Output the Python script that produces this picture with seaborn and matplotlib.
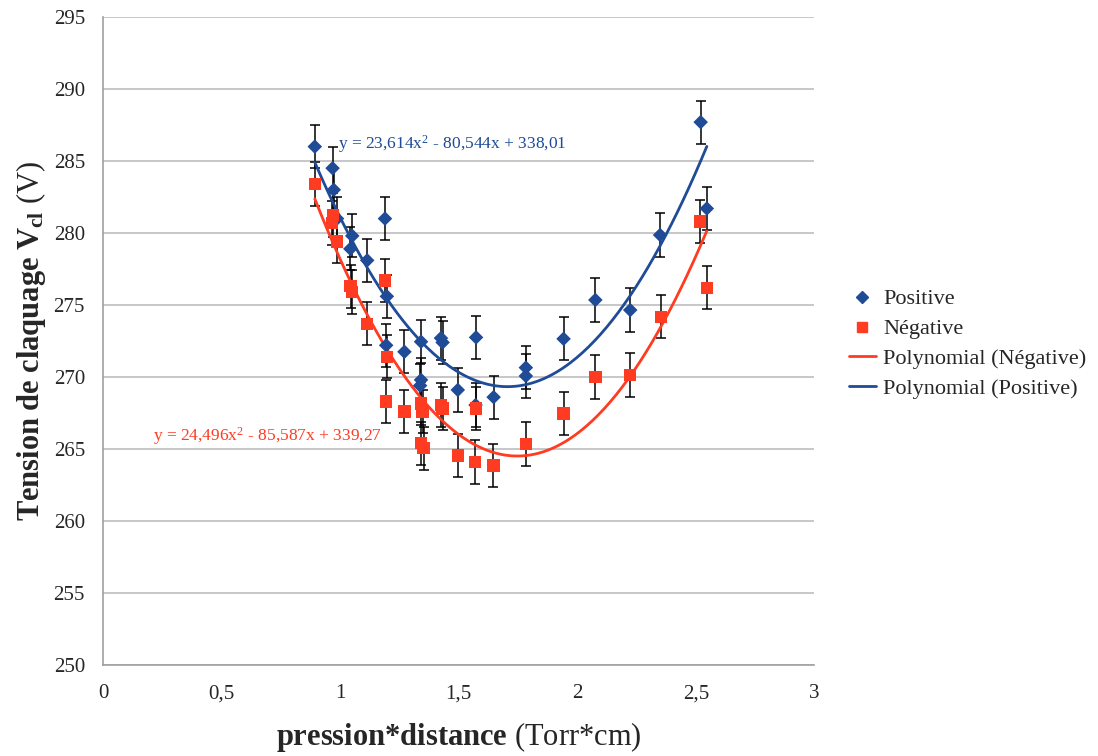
import numpy as np
import pandas as pd
import matplotlib
matplotlib.use("Agg")
import matplotlib.pyplot as plt
from matplotlib.ticker import MultipleLocator, FuncFormatter
from matplotlib.lines import Line2D
import seaborn as sns

# Donnees
pd_pos = [0.893, 0.968, 0.973, 0.987, 1.043, 1.051, 1.114, 1.189, 1.197, 1.194,
          1.271, 1.341, 1.341, 1.337, 1.425, 1.432, 1.496, 1.573, 1.571, 1.647,
          1.783, 1.783, 1.942, 2.076, 2.223, 2.349, 2.520, 2.546]
v_pos = [286.0, 284.5, 283.0, 281.0, 278.9, 279.8, 278.1, 281.0, 275.6, 272.2,
         271.75, 272.45, 269.8, 269.4, 272.7, 272.4, 269.1, 272.75, 268.05, 268.6,
         270.65, 270.07, 272.65, 275.35, 274.65, 279.86, 287.7, 281.7]

pd_neg = [0.893, 0.970, 0.966, 0.987, 1.044, 1.051, 1.114, 1.189, 1.197, 1.193,
          1.271, 1.341, 1.348, 1.341, 1.352, 1.425, 1.432, 1.496, 1.573, 1.569,
          1.646, 1.783, 1.942, 2.076, 2.223, 2.354, 2.518, 2.546]
v_neg = [283.4, 281.25, 280.7, 279.4, 276.3, 275.9, 273.7, 276.7, 271.4, 268.3,
         267.6, 268.15, 267.6, 265.4, 265.05, 268.05, 267.8, 264.55, 267.8, 264.1,
         263.85, 265.35, 267.45, 270.0, 270.14, 274.18, 280.8, 276.2]

err = 1.5

# coefficients des courbes de tendance (a, b, c)
coef_pos = [23.614, -80.544, 338.01]
coef_neg = [24.496, -85.587, 339.27]

blue = "#1F4B97"
red = "#FF3B22"
serif = ["Liberation Serif", "DejaVu Serif"]

sns.set_style("white")
plt.rcParams["font.family"] = serif
plt.rcParams["mathtext.fontset"] = "custom"
plt.rcParams["mathtext.rm"] = "Liberation Serif"
plt.rcParams["mathtext.bf"] = "Liberation Serif:bold"
plt.rcParams["mathtext.it"] = "Liberation Serif:italic"

df_pos = pd.DataFrame({"pd": pd_pos, "V": v_pos})
df_neg = pd.DataFrame({"pd": pd_neg, "V": v_neg})

xs = np.linspace(min(pd_pos), max(pd_pos), 200)
fit_pos = pd.DataFrame({"pd": xs, "V": np.polyval(coef_pos, xs)})
fit_neg = pd.DataFrame({"pd": xs, "V": np.polyval(coef_neg, xs)})

fig = plt.figure(figsize=(10.98, 7.56), dpi=100)
ax = fig.add_axes([0.0938, 0.1204, 0.648, 0.8571])

ax.yaxis.grid(True, color="#BDBDBD", lw=1.2)
ax.set_axisbelow(True)

ax.errorbar(df_pos["pd"], df_pos["V"], yerr=err, fmt="none", ecolor="black",
            elinewidth=1.1, capsize=3.5, capthick=1.1, zorder=2)
ax.errorbar(df_neg["pd"], df_neg["V"], yerr=err, fmt="none", ecolor="black",
            elinewidth=1.1, capsize=3.5, capthick=1.1, zorder=2)

sns.lineplot(data=fit_neg, x="pd", y="V", color=red, lw=2, ax=ax, zorder=3)
sns.lineplot(data=fit_pos, x="pd", y="V", color=blue, lw=2, ax=ax, zorder=3)

sns.scatterplot(data=df_pos, x="pd", y="V", marker="D", s=55, color=blue,
                edgecolor="none", ax=ax, zorder=4)
sns.scatterplot(data=df_neg, x="pd", y="V", marker="s", s=80, color=red,
                edgecolor="none", ax=ax, zorder=4)

ax.set_xlim(0, 3)
ax.set_ylim(250, 295)
ax.xaxis.set_major_locator(MultipleLocator(0.5))
ax.xaxis.set_minor_locator(MultipleLocator(0.1))
ax.yaxis.set_major_locator(MultipleLocator(5))
ax.yaxis.set_minor_locator(MultipleLocator(1))
ax.xaxis.set_major_formatter(FuncFormatter(lambda v, p: f"{v:g}".replace(".", ",")))
ax.yaxis.set_major_formatter(FuncFormatter(lambda v, p: f"{v:g}"))

for s in ["top", "right"]:
    ax.spines[s].set_visible(False)
for s in ["left", "bottom"]:
    ax.spines[s].set_color("#A0A0A0")
    ax.spines[s].set_linewidth(1.2)

ax.tick_params(axis="x", which="major", direction="in", length=8, color="#A0A0A0",
               labelsize=15, pad=14)
ax.tick_params(axis="x", which="minor", direction="in", length=4, color="#A0A0A0")
ax.tick_params(axis="y", which="major", direction="out", length=7, color="#A0A0A0",
               labelsize=15, pad=6)
ax.tick_params(axis="y", which="minor", direction="in", length=5, color="#A0A0A0")
for lab in ax.get_xticklabels() + ax.get_yticklabels():
    lab.set_fontfamily(serif)

ax.set_xlabel(r"$\mathbf{pression{*}distance}$ (Torr*cm)", fontsize=22, labelpad=12)
ax.set_ylabel(r"$\mathbf{Tension\ de\ claquage\ V_{cl}}$ (V)", fontsize=22, labelpad=4)

ax.text(0.99, 286.2, r"y = 23,614x$^2$ - 80,544x + 338,01", color=blue, fontsize=12.5,
        va="center", ha="left")
ax.text(0.21, 265.9, r"y = 24,496x$^2$ - 85,587x + 339,27", color=red, fontsize=12.5,
        va="center", ha="left")

handles = [
    Line2D([], [], marker="D", color=blue, ls="none", markersize=6),
    Line2D([], [], marker="s", color=red, ls="none", markersize=7),
    Line2D([], [], color=red, lw=2),
    Line2D([], [], color=blue, lw=2),
]
labels = ["Positive", "Négative", "Polynomial (Négative)", "Polynomial (Positive)"]
fig.legend(handles, labels, loc="center left", bbox_to_anchor=(0.755, 0.545),
           frameon=False, fontsize=16, handlelength=1.2, handletextpad=0.35,
           labelspacing=0.42)

fig.savefig("out.png", dpi=100)
